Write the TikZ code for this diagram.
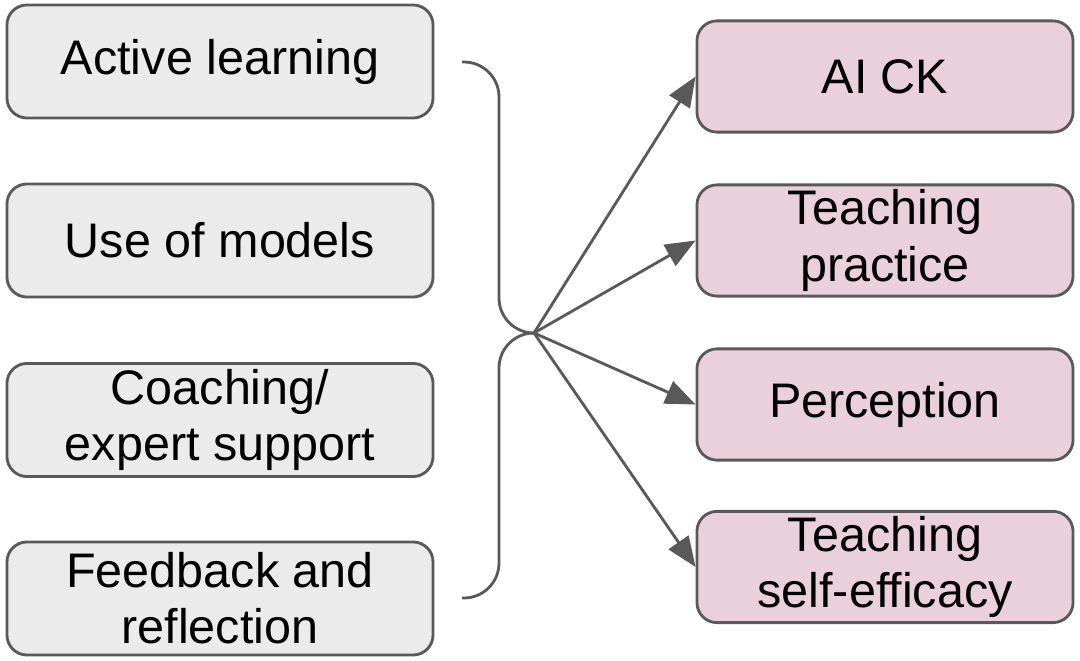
\documentclass[tikz,border=0pt]{standalone}
\usepackage{fontspec}
\setmainfont{Liberation Sans}
\usetikzlibrary{arrows.meta}
\definecolor{edgegray}{RGB}{89,89,89}
\definecolor{boxgray}{RGB}{235,235,235}
\definecolor{boxpink}{RGB}{234,208,219}
\begin{document}
\begin{tikzpicture}[x=0.025cm, y=-0.025cm,
  every node/.style={font=\fontsize{34.5}{40}\selectfont, align=center, inner sep=0pt},
  cause/.style={draw=edgegray, line width=2pt, fill=boxgray, rounded corners=0.5cm, minimum width=10.65cm, minimum height=2.825cm},
  effect/.style={draw=edgegray, line width=2pt, fill=boxpink, rounded corners=0.5cm, minimum width=9.4cm, minimum height=2.78cm},
  link/.style={draw=edgegray, line width=2pt, -{Triangle[length=0.75cm, width=0.6cm]}}]

\useasboundingbox (0, 0) rectangle (1080, 661);

\draw (220, 61.5) node[cause] (al){Active learning};
\draw (220, 240.5) node[cause] (um){Use of models};
\draw (220, 420) node[cause] (co){Coaching/\\expert support};
\draw (220, 598.5) node[cause] (fb){Feedback and\\reflection};

\draw (885, 76.5) node[effect] (ck){AI CK};
\draw (885, 240.5) node[effect] (tp){Teaching\\practice};
\draw (885, 404.5) node[effect] (pe){Perception};
\draw (885, 567) node[effect] (se){Teaching\\self-efficacy};

\coordinate (hub) at (534, 333);

\draw[edgegray, line width=2pt, rounded corners=0.875cm] (462, 62) -- (499, 62) -- (499, 333) -- (hub);
\draw[edgegray, line width=2pt, rounded corners=0.875cm] (hub) -- (499, 333) -- (499, 598) -- (462, 598);

\draw[link] (hub) -- (ck.west);
\draw[link] (hub) -- (tp.west);
\draw[link] (hub) -- (pe.west);
\draw[link] (hub) -- (se.west);
\end{tikzpicture}
\end{document}
